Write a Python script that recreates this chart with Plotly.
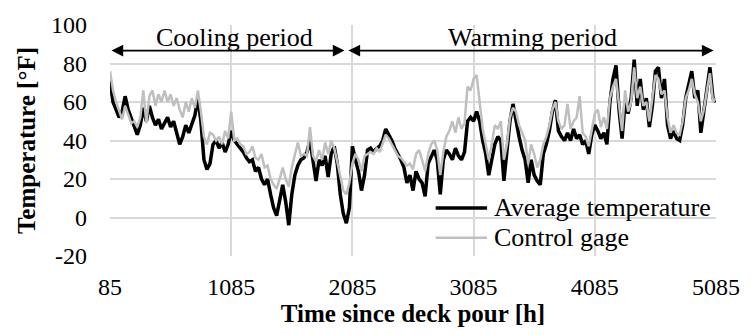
import plotly.graph_objects as go

# Hourly-sampled record, one reading every 25 h from 85 h to 5085 h
hours = list(range(85, 5086, 25))

avg_temp = [
    71, 60, 56, 52, 55, 63, 56, 52, 48, 43,
    48, 57, 50, 58, 52, 48, 51, 46, 49, 52,
    47, 50, 44, 38, 42, 48, 44, 49, 53, 62,
    50, 30, 25, 28, 38, 40, 36, 39, 34, 38,
    45, 40, 38, 36, 34, 31, 29, 30, 24, 26,
    20, 17, 20, 12, 5, 1, 10, 17, 8, -4,
    12, 22, 27, 30, 31, 34, 40, 28, 19, 30,
    27, 32, 21, 33, 37, 28, 12, 2, -3, 5,
    37, 30, 24, 14, 22, 35, 36, 34, 36, 37,
    40, 46, 43, 40, 36, 33, 30, 26, 18, 22,
    14, 24, 20, 18, 11, 28, 32, 35, 30, 12,
    30, 35, 33, 30, 36, 32, 30, 34, 50, 52,
    50, 55, 50, 40, 33, 22, 30, 38, 42, 40,
    19, 33, 50, 59, 50, 42, 35, 30, 18, 30,
    22, 19, 17, 33, 38, 45, 55, 61, 45, 42,
    40, 44, 40, 46, 41, 43, 38, 40, 33, 43,
    48, 45, 41, 44, 38, 60, 72, 79, 56, 41,
    60, 54, 62, 82, 58, 72, 56, 62, 47, 58,
    76, 78, 62, 72, 48, 41, 45, 41, 40, 48,
    62, 70, 76, 62, 66, 44, 55, 68, 78, 62,
    60,
]

control_gage = [
    76, 66, 60, 55, 51, 58, 54, 49, 50, 47,
    52, 66, 49, 63, 66, 58, 64, 60, 66, 60,
    64, 58, 62, 56, 52, 60, 55, 62, 57, 66,
    55, 42, 38, 44, 43, 40, 42, 38, 45, 41,
    55, 40, 41, 38, 37, 33, 34, 37, 31, 30,
    33, 26, 27, 20, 17, 15, 20, 26, 20, 16,
    26, 33, 39, 32, 33, 32, 47, 32, 29, 35,
    30, 39, 33, 40, 36, 29, 22, 14, 12, 18,
    28, 33, 30, 24, 32, 33, 34, 33, 36, 34,
    38, 43, 41, 38, 35, 32, 31, 29, 27, 28,
    25, 33, 35, 30, 24, 33, 38, 40, 35, 22,
    34, 42, 45, 50, 44, 52, 46, 49, 68, 66,
    72, 74, 60, 46, 38, 30, 38, 48, 46, 50,
    30, 38, 52, 57, 55, 48, 44, 40, 28, 38,
    33, 26, 30, 38, 42, 48, 56, 60, 50, 46,
    48, 59, 46, 50, 52, 63, 44, 42, 37, 45,
    54, 56, 47, 52, 46, 62, 68, 72, 58, 45,
    66, 55, 60, 78, 62, 68, 58, 60, 50, 62,
    74, 72, 64, 66, 52, 44, 48, 44, 43, 50,
    62, 66, 72, 64, 60, 50, 56, 66, 75, 60,
    62,
]

series_names = ["Average temperature", "Control gage"]
series_colors = ["#000000", "#bfbfbf"]
series_widths = [3.5, 2.5]
x_ticks = [85, 1085, 2085, 3085, 4085, 5085]
y_ticks = [-20, 0, 20, 40, 60, 80, 100]

FONT = "Liberation Serif"
GRID = "#d9d9d9"

fig = go.Figure()
for name, color, vals, w in zip(series_names, series_colors,
                                [avg_temp, control_gage], series_widths):
    fig.add_trace(go.Scatter(
        x=hours, y=vals, mode="lines", name=name, showlegend=False,
        line=dict(color=color, width=w),
    ))

# Period markers: double-headed arrows with labels
arrow_y = 86.7
periods = [
    ("Cooling period", 85, 2020, 1111),
    ("Warming period", 2040, 5065, 3570),
]
for label, x0, x1, xc in periods:
    fig.add_annotation(
        x=x1, y=arrow_y, ax=x0, ay=arrow_y,
        xref="x", yref="y", axref="x", ayref="y",
        text="", showarrow=True, arrowside="end+start",
        arrowhead=2, arrowsize=1.3, arrowwidth=1.8, arrowcolor="#000000",
    )
    fig.add_annotation(
        x=xc, y=arrow_y, xref="x", yref="y", text=label,
        showarrow=False, yanchor="bottom", yshift=-3,
        font=dict(family=FONT, size=26, color="#000000"),
    )

# Legend key: sample line plus label for each series
legend_rows = [5.0, -10.5]
for name, color, w, ly in zip(series_names, series_colors, series_widths, legend_rows):
    fig.add_shape(
        type="line", xref="x", yref="y",
        x0=2772, x1=3196, y0=ly, y1=ly,
        line=dict(color=color, width=w),
    )
    fig.add_annotation(
        x=3235, y=ly, xref="x", yref="y", text=name,
        showarrow=False, xanchor="left", yanchor="middle",
        font=dict(family=FONT, size=26, color="#000000"),
    )

fig.update_layout(
    width=752, height=335,
    margin=dict(l=110, r=28, t=19, b=78),
    paper_bgcolor="#ffffff", plot_bgcolor="#ffffff",
    font=dict(family=FONT, size=24, color="#000000"),
    showlegend=False,
)
fig.update_xaxes(
    range=[85, 5085], tickvals=x_ticks, ticktext=[str(t) for t in x_ticks],
    showgrid=True, gridcolor=GRID, gridwidth=1.5, zeroline=False,
    showline=False, ticks="", ticklabelstandoff=14,
    tickfont=dict(family=FONT, size=24),
    title=dict(text="<b>Time since deck pour [h]</b>", font=dict(family=FONT, size=25), standoff=5),
)
fig.update_yaxes(
    range=[-20, 100], tickvals=y_ticks, ticktext=[str(t) for t in y_ticks],
    showgrid=True, gridcolor=GRID, gridwidth=1.5, zeroline=False,
    showline=False, ticks="", ticklabelstandoff=22,
    tickfont=dict(family=FONT, size=24),
    title=dict(text="<b>Temperature [°F]</b>", font=dict(family=FONT, size=25), standoff=8),
)

fig.write_html("out.html")
